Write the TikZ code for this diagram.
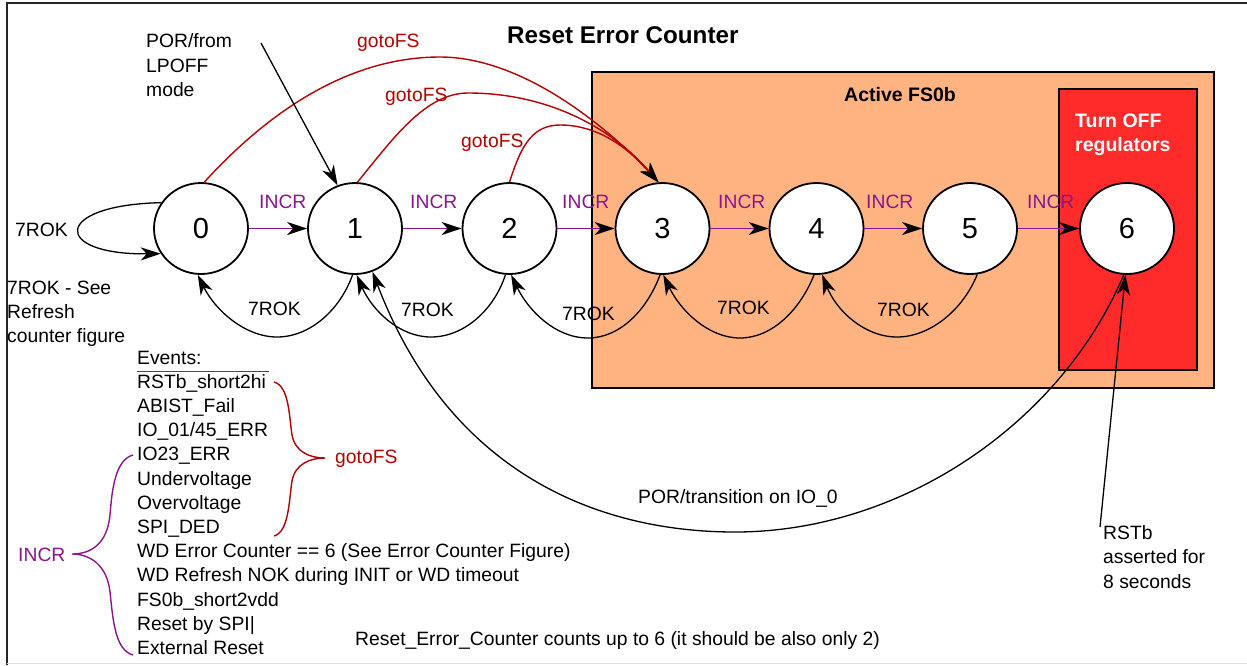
\documentclass[tikz,border=0pt]{standalone}
\usepackage{fontspec}
\setmainfont{Liberation Sans}
\usetikzlibrary{shapes.geometric,arrows.meta}
\definecolor{incrc}{RGB}{140,20,140}
\definecolor{gotoc}{RGB}{180,0,0}
\definecolor{fsorange}{RGB}{255,179,128}
\definecolor{offred}{RGB}{255,42,42}
\begin{document}
\begin{tikzpicture}[x=1pt,y=-1pt,
  state/.style={ellipse,draw,line width=1.8pt,fill=white,minimum width=94pt,minimum height=91pt,inner sep=0pt,font=\fontsize{29}{29}\selectfont},
  txt/.style={inner sep=0pt,anchor=base west,font=\fontsize{19.3}{24}\selectfont},
  btxt/.style={inner sep=0pt,anchor=base west,font=\fontsize{19.5}{24}\selectfont\bfseries},
  arr/.style={-{Stealth[length=20pt,width=13pt,inset=6pt,color=black]}},
  blk/.style={draw=black,line width=1.3pt},
  incrline/.style={draw=incrc,line width=1.8pt,arr},
  gotoline/.style={draw=gotoc,line width=1.4pt},
  boxst/.style={draw=black,line width=2pt,inner sep=0pt,anchor=north west},
]
\useasboundingbox (0,0) rectangle (1247,665);
% frame
\draw[black!85,line width=2pt] (6.5,665) -- (6.5,3) -- (1247,3);
\draw[black!12,line width=1.5pt] (6.5,663.5) -- (1247,663.5);

% boxes
\node[boxst,fill=fsorange,minimum width=622pt,minimum height=315.5pt] (fs0b) at (591,71) {};
\node[boxst,fill=offred,minimum width=138pt,minimum height=281pt] (off) at (1058,88) {};

% states
\node[state] (n0) at (201,228.5) {0};
\node[state] (n1) at (355,228.5) {1};
\node[state] (n2) at (509.5,228.5) {2};
\node[state] (n3) at (662.5,228.5) {3};
\node[state] (n4) at (816.5,228.5) {4};
\node[state] (n5) at (970,228.5) {5};
\node[state] (n6) at (1127,228.5) {6};

% titles
\node[inner sep=0pt,anchor=base west,font=\fontsize{24.2}{25}\selectfont\bfseries] (title) at (507,43) {Reset Error Counter};
\node[btxt] (fslbl) at (844,101) {Active FS0b};
\node[btxt,text=white] (off1) at (1075,127) {Turn OFF};
\node[btxt,text=white] (off2) at (1075,151) {regulators};

% INCR arrows
\draw[incrline] (n0) -- (n1);
\draw[incrline] (n1) -- (n2);
\draw[incrline] (n2) -- (n3);
\draw[incrline] (n3) -- (n4);
\draw[incrline] (n4) -- (n5);
\draw[incrline] (n5) -- (n6);
\foreach \x/\i in {259/1,410/2,562/3,718/4,866/5,1027/6}
  \node[txt,text=incrc] (incr\i) at (\x,208) {INCR};

% gotoFS curves
\draw[gotoline,arr] (n0.86) .. controls (270,110) and (350,57) .. (440,57) .. controls (530,57) and (620,140) .. (n3.95);
\draw[gotoline,arr] (n1.87) .. controls (392,140) and (425,93) .. (468,93) .. controls (548,93) and (612,128) .. (n3.95);
\draw[gotoline,arr] (n2.90) .. controls (520,150) and (530,125) .. (560,125) .. controls (600,125) and (630,150) .. (n3.95);
\node[txt,text=gotoc] (g1) at (357,47) {gotoFS};
\node[txt,text=gotoc] (g2) at (385,101) {gotoFS};
\node[txt,text=gotoc] (g3) at (461,147) {gotoFS};

% 7ROK back curves
\draw[blk,arr] (n1.267) .. controls (340,310) and (310,337) .. (277,337) .. controls (245,337) and (215,310) .. (n0.266);
\draw[blk,arr] (n2.265) .. controls (494,310) and (464,337) .. (431,337) .. controls (399,337) and (372,310) .. (n1.272);
\draw[blk,arr] (n3.267) .. controls (647,310) and (620,338) .. (588,338) .. controls (555,338) and (528,310) .. (n2.272);
\draw[blk,arr] (n4.267) .. controls (800,310) and (772,338) .. (740,338) .. controls (708,338) and (680,310) .. (n3.271);
\draw[blk,arr] (n5.279) .. controls (963,310) and (930,337) .. (897,337) .. controls (864,337) and (836,310) .. (n4.277);
\node[txt] (r1) at (248,315) {7ROK};
\node[txt] (r2) at (401,316) {7ROK};
\node[txt] (r3) at (562,320) {7ROK};
\node[txt] (r4) at (717,314) {7ROK};
\node[txt] (r5) at (877,316) {7ROK};

% self loop
\draw[blk,arr] (n0.147) .. controls (52,205) and (52,255) .. (n0.212);
\node[txt] (rself) at (15,236) {7ROK};
\node[txt] (see1) at (7,294) {7ROK - See};
\node[txt] (see2) at (7,318) {Refresh};
\node[txt] (see3) at (7,342) {counter figure};

% POR from LPOFF
\node[txt] (por1) at (146,47) {POR/from};
\node[txt] (por2) at (146,72) {LPOFF};
\node[txt] (por3) at (146,96) {mode};
\coordinate (porS) at (261,43);
\draw[blk,arr] (porS) -- (n1.112);

% big POR/transition curve
\draw[blk,arr] (n6.266) .. controls (1060,425) and (900,532) .. (735,532) .. controls (600,532) and (450,475) .. (n1.292);
\node[txt] (portr) at (638,503) {POR/transition on IO\_0};

% RSTb
\coordinate (rstS) at (1100,527);
\draw[blk,arr] (rstS) -- (n6.268);
\node[txt] (rst1) at (1103,539) {RSTb};
\node[txt] (rst2) at (1103,563.5) {asserted for};
\node[txt] (rst3) at (1103,588) {8 seconds};

% events
\node[txt] (ev0) at (137,364) {Events:};
\draw[black!70,line width=1pt] (137,371) -- (269,371);
\foreach \t [count=\k] in {RSTb\_short2hi,ABIST\_Fail,IO\_01/45\_ERR,IO23\_ERR,Undervoltage,Overvoltage,SPI\_DED,WD Error Counter == 6 (See Error Counter Figure),WD Refresh NOK during INIT or WD timeout,FS0b\_short2vdd,Reset by SPI|,External Reset}
  \node[txt] (ev\k) at (137,364+24.2*\k) {\t};

% braces
\draw[gotoc,line width=1.4pt] (274,382) .. controls (289,386) and (289,415) .. (292,435) .. controls (295,452) and (310,458) .. (325,458) .. controls (310,458) and (295,464) .. (292,481) .. controls (289,500) and (289,532) .. (274,536);
\node[txt,text=gotoc] (bgoto) at (335,463) {gotoFS};
\draw[incrc,line width=1.4pt] (133,455) .. controls (115,460) and (112,490) .. (110,515) .. controls (107,545) and (90,554) .. (72,554) .. controls (90,554) and (107,565) .. (110,592) .. controls (113,620) and (115,650) .. (133,655);
\node[txt,text=incrc] (bincr) at (18,561) {INCR};

% note
\node[txt] (note) at (355,645) {Reset\_Error\_Counter counts up to 6 (it should be also only 2)};
\end{tikzpicture}
\end{document}
